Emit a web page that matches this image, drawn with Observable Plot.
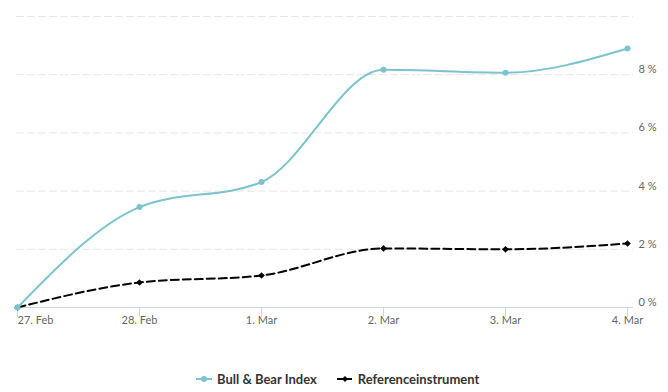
<!DOCTYPE html>
<html><head><meta charset="utf-8">
<script src="https://cdn.jsdelivr.net/npm/d3@7"></script>
<script src="https://cdn.jsdelivr.net/npm/@observablehq/plot@0.6"></script>
<style>
html,body{margin:0;padding:0;background:#fff;}
body{width:668px;height:392px;overflow:hidden;font-family:Lato,"Liberation Sans",sans-serif;}
#legend{height:42px;box-sizing:border-box;padding-top:15px;padding-left:196px;display:flex;align-items:center;font-weight:bold;font-size:13px;color:#333;line-height:14px;}
.item{display:flex;align-items:center;margin-right:20px;}
.item svg{margin-right:5px;}
</style></head><body>
<div id="chart"></div>
<div id="legend"></div>
<script>
const dates = ["27. Feb", "28. Feb", "1. Mar", "2. Mar", "3. Mar", "4. Mar"];
const bullBear = [0, 3.45, 4.31, 8.17, 8.07, 8.9];
const reference = [0, 0.86, 1.10, 2.03, 2.0, 2.2];
const gridTicks = [2, 4, 6, 8, 10];
const labelTicks = [0, 2, 4, 6, 8];
const seriesNames = ["Bull & Bear Index", "Referenceinstrument"];
const colors = ["#7cc3cc", "#000000"];

const bbData = dates.map((d, i) => ({date: d, value: bullBear[i]}));
const refData = dates.map((d, i) => ({date: d, value: reference[i]}));

const chart = Plot.plot({
  width: 668,
  height: 350,
  marginLeft: 17,
  marginRight: 41,
  marginTop: 16,
  marginBottom: 43,
  style: {fontFamily: "Lato, 'Liberation Sans', sans-serif", background: "#fff"},
  x: {type: "point", domain: dates, padding: 0, axis: null},
  y: {domain: [0, 10], axis: null},
  marks: [
    Plot.ruleY(gridTicks, {stroke: "#e6e6e6", strokeDasharray: "8,3", insetLeft: -1, insetRight: -6}),
    Plot.ruleY([0], {stroke: "#ccd6eb", insetLeft: -1, insetRight: -6}),
    Plot.axisX({tickSize: 10, stroke: "#ccd6eb", tickFormat: () => "", anchor: "bottom", label: null}),
    Plot.text([dates[0]], {x: d => d, frameAnchor: "bottom", dy: 16, textAnchor: "start", fill: "#666", fontSize: 11}),
    Plot.text(dates.slice(1), {x: d => d, frameAnchor: "bottom", dy: 16, textAnchor: "middle", fill: "#666", fontSize: 11}),
    Plot.text(labelTicks, {y: d => d, text: d => d + " %", frameAnchor: "right", dx: 29, dy: -5, textAnchor: "end", fill: "#666", fontSize: 11}),
    Plot.line(refData, {x: "date", y: "value", stroke: colors[1], strokeWidth: 2, strokeDasharray: "8,4", curve: "monotone-x"}),
    Plot.dot(refData, {x: "date", y: "value", fill: colors[1], symbol: "diamond2", r: 3}),
    Plot.line(bbData, {x: "date", y: "value", stroke: colors[0], strokeWidth: 2, curve: "monotone-x"}),
    Plot.dot(bbData, {x: "date", y: "value", fill: colors[0], r: 3})
  ]
});
document.getElementById("chart").appendChild(chart);

const legend = document.getElementById("legend");
seriesNames.forEach((name, i) => {
  const item = document.createElement("div");
  item.className = "item";
  const dash = i === 1 ? ' stroke-dasharray="6,3"' : '';
  const marker = i === 1
    ? `<path d="M8,4 L11,7 L8,10 L5,7 Z" fill="${colors[i]}"/>`
    : `<circle cx="8" cy="7" r="3" fill="${colors[i]}"/>`;
  item.innerHTML = `<svg width="16" height="14"><line x1="0" y1="7" x2="16" y2="7" stroke="${colors[i]}" stroke-width="2"${dash}/>${marker}</svg><span>${name}</span>`;
  legend.appendChild(item);
});
</script>
</body></html>
